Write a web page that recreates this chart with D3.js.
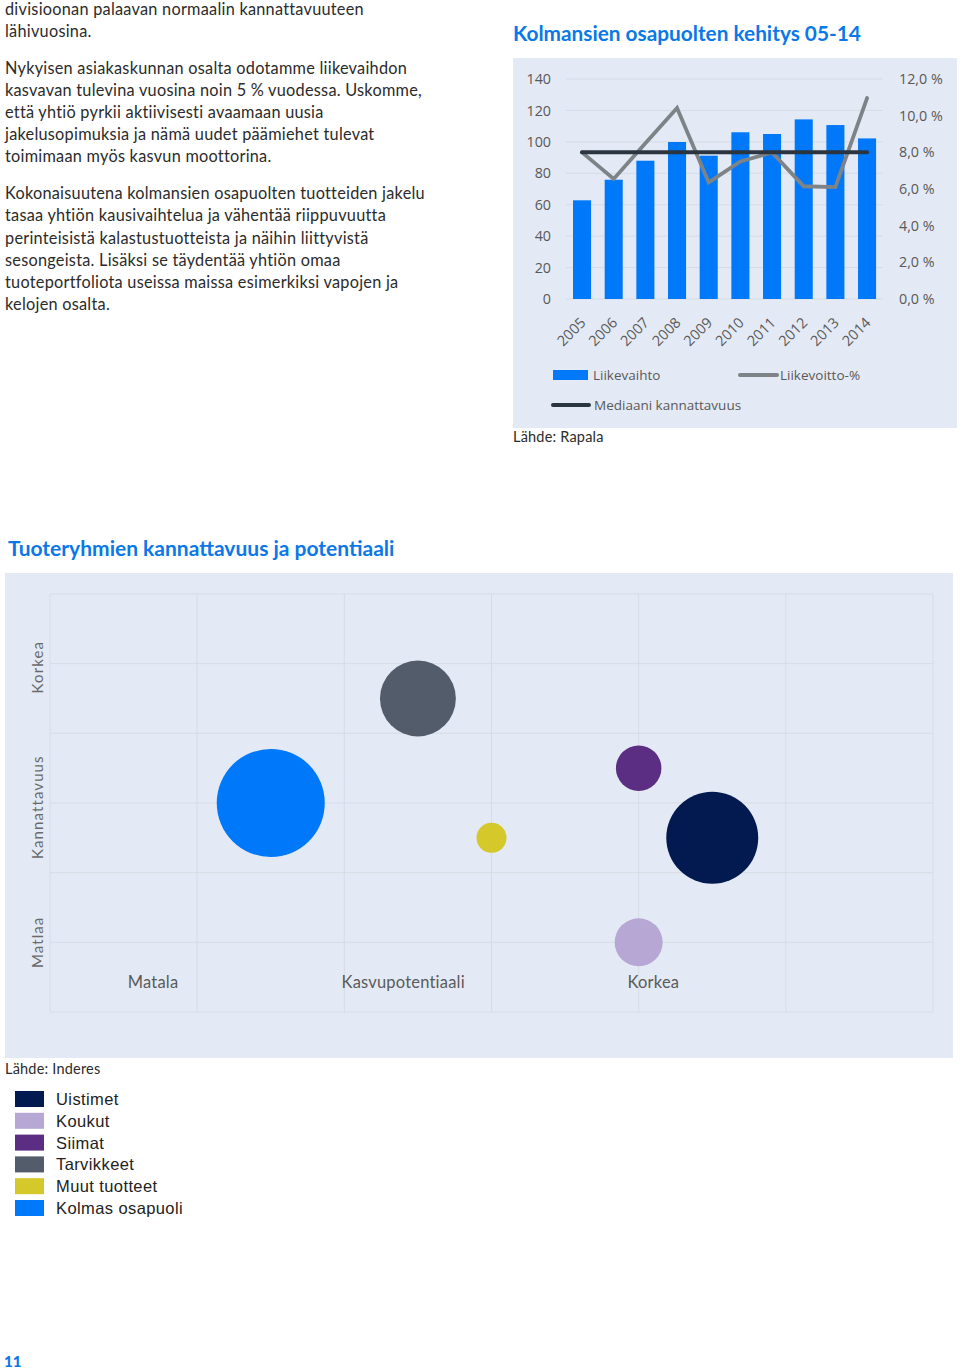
<!DOCTYPE html>
<html><head><meta charset="utf-8">
<script src="https://cdn.jsdelivr.net/npm/d3@7"></script>
<style>
html,body{margin:0;padding:0;background:#fff;}
svg{display:block;}
</style></head>
<body>
<svg id="page" width="960" height="1372"></svg>
<script>
// ---------- DATA ----------
const bodyLines = [
  "divisioonan palaavan normaalin kannattavuuteen",
  "lähivuosina.",
  "Nykyisen asiakaskunnan osalta odotamme liikevaihdon",
  "kasvavan tulevina vuosina noin 5 % vuodessa. Uskomme,",
  "että yhtiö pyrkii aktiivisesti avaamaan uusia",
  "jakelusopimuksia ja nämä uudet päämiehet tulevat",
  "toimimaan myös kasvun moottorina.",
  "Kokonaisuutena kolmansien osapuolten tuotteiden jakelu",
  "tasaa yhtiön kausivaihtelua ja vähentää riippuvuutta",
  "perinteisistä kalastustuotteista ja näihin liittyvistä",
  "sesongeista. Lisäksi se täydentää yhtiön omaa",
  "tuoteportfoliota useissa maissa esimerkiksi vapojen ja",
  "kelojen osalta."
];
const bodyParagraphStart = [0, 0, 1, 1, 1, 1, 1, 2, 2, 2, 2, 2, 2];
const years = ["2005","2006","2007","2008","2009","2010","2011","2012","2013","2014"];
const liikevaihto = [62.8, 75.9, 88.0, 99.9, 91.2, 106.1, 105.0, 114.3, 110.7, 102.2];
const liikevoitto = [0.080, 0.0655, 0.085, 0.1042, 0.0636, 0.075, 0.080, 0.0615, 0.061, 0.1096];
const mediaani = [0.080, 0.080, 0.080, 0.080, 0.080, 0.080, 0.080, 0.080, 0.080, 0.080];
const leftTicks = [0, 20, 40, 60, 80, 100, 120, 140];
const rightTicks = [0, 0.02, 0.04, 0.06, 0.08, 0.10, 0.12];
const chart1Legend = ["Liikevaihto", "Liikevoitto-%", "Mediaani kannattavuus"];

const groups = ["Uistimet", "Koukut", "Siimat", "Tarvikkeet", "Muut tuotteet", "Kolmas osapuoli"];
const groupColors = ["#021a50", "#b7a7d4", "#5b2d83", "#535c6b", "#d5c82a", "#0078fa"];
const potentiaali = [4.5, 4.0, 4.0, 2.5, 3.0, 1.5];   // x position (grid units)
const kannattavuus = [2.5, 1.0, 3.5, 4.5, 2.5, 3.0];  // y position (grid units)
const koko = [9.4, 2.56, 2.3, 6.4, 1.0, 12.96];        // bubble size
const xLabels = ["Matala", "Kasvupotentiaali", "Korkea"];
const xLabelPos = [0.7, 2.4, 4.1];
const yLabels = ["Matlaa", "Kannattavuus", "Korkea"];
const yLabelPos = [1.0, 2.94, 4.95];

// ---------- PAGE ----------
const svg = d3.select("#page");
const bodyFont = "Lato, 'Open Sans', sans-serif";
const chartFont = "'Open Sans', Lato, sans-serif";
const blue = "#0a78e8";

// body text
const tg = svg.append("g");
bodyLines.forEach((t, i) => {
  tg.append("text").attr("x", 5).attr("y", 15 + i * 22.1 + bodyParagraphStart[i] * 14.8)
    .attr("font-family", bodyFont).attr("font-size", 16.3).attr("letter-spacing", 0.25)
    .attr("fill", "#2b2b2b").text(t);
});

// ---------- CHART 1 ----------
svg.append("text").attr("x", 513).attr("y", 41)
  .attr("font-family", bodyFont).attr("font-weight", 700).attr("font-size", 20.8)
  .attr("fill", blue).text("Kolmansien osapuolten kehitys 05-14");

svg.append("rect").attr("x", 513).attr("y", 58).attr("width", 444).attr("height", 370)
  .attr("fill", "#e4eaf5");

const x1 = d3.scaleBand().domain(years).range([566.2, 882.9]).paddingInner(0.43).paddingOuter(0.215);
const yL = d3.scaleLinear().domain([0, 140]).range([299, 79]);
const yR = d3.scaleLinear().domain([0, 0.12]).range([299, 79]);

const c1 = svg.append("g");
// gridlines
c1.append("g").selectAll("line").data(leftTicks).join("line")
  .attr("x1", 566).attr("x2", 883)
  .attr("y1", d => yL(d)).attr("y2", d => yL(d))
  .attr("stroke", "#d6dce6").attr("stroke-width", 1);

// left axis
const axL = c1.append("g").attr("transform", "translate(551,0)")
  .call(d3.axisLeft(yL).tickValues(leftTicks).tickSize(0).tickPadding(0));
axL.select(".domain").remove();
axL.selectAll("text").attr("font-family", chartFont).attr("font-size", 14.3).attr("fill", "#595959");

// right axis
const fmtPct = d => d3.format(".1f")(d * 100).replace(".", ",") + " %";
const axR = c1.append("g").attr("transform", "translate(899,0)")
  .call(d3.axisRight(yR).tickValues(rightTicks).tickSize(0).tickPadding(0).tickFormat(fmtPct));
axR.select(".domain").remove();
axR.selectAll("text").attr("font-family", chartFont).attr("font-size", 14.3).attr("fill", "#595959");

// bars
c1.append("g").selectAll("rect").data(liikevaihto).join("rect")
  .attr("x", (d, i) => x1(years[i])).attr("width", x1.bandwidth())
  .attr("y", d => yL(d)).attr("height", d => yL(0) - yL(d))
  .attr("fill", "#0078fa");

// x axis labels
const axX = c1.append("g").attr("transform", "translate(0,305)")
  .call(d3.axisBottom(x1).tickSize(0).tickPadding(0));
axX.select(".domain").remove();
axX.selectAll("text")
  .attr("font-family", chartFont).attr("font-size", 14.5).attr("fill", "#595959")
  .attr("text-anchor", "end").attr("dy", "0.35em")
  .attr("transform", "translate(1,15) rotate(-45)");

const cx = (d, i) => x1(years[i]) + x1.bandwidth() / 2;
// profit line
c1.append("path").datum(liikevoitto)
  .attr("d", d3.line().x(cx).y(d => yR(d)))
  .attr("fill", "none").attr("stroke", "#7e8388").attr("stroke-width", 3.8)
  .attr("stroke-linejoin", "miter").attr("stroke-linecap", "round");
// median line
c1.append("path").datum(mediaani)
  .attr("d", d3.line().x(cx).y(d => yR(d)))
  .attr("fill", "none").attr("stroke", "#2a3540").attr("stroke-width", 4)
  .attr("stroke-linecap", "round");

// legend chart 1
const lg1 = c1.append("g").attr("font-family", chartFont).attr("font-size", 13.5).attr("fill", "#595959");
lg1.append("rect").attr("x", 553).attr("y", 370).attr("width", 35).attr("height", 10).attr("fill", "#0078fa");
lg1.append("text").attr("x", 593).attr("y", 380).text(chart1Legend[0]);
lg1.append("line").attr("x1", 740).attr("x2", 777).attr("y1", 375).attr("y2", 375)
  .attr("stroke", "#7e8388").attr("stroke-width", 4).attr("stroke-linecap", "round");
lg1.append("text").attr("x", 780).attr("y", 380).text(chart1Legend[1]);
lg1.append("line").attr("x1", 553).attr("x2", 589).attr("y1", 405).attr("y2", 405)
  .attr("stroke", "#2a3540").attr("stroke-width", 4).attr("stroke-linecap", "round");
lg1.append("text").attr("x", 594).attr("y", 410).text(chart1Legend[2]);

svg.append("text").attr("x", 513).attr("y", 442)
  .attr("font-family", bodyFont).attr("font-size", 14.5).attr("letter-spacing", 0.2).attr("fill", "#2b2b2b").text("Lähde: Rapala");

// ---------- CHART 2 (bubbles) ----------
svg.append("text").attr("x", 8).attr("y", 556)
  .attr("font-family", bodyFont).attr("font-weight", 700).attr("font-size", 21)
  .attr("fill", blue).text("Tuoteryhmien kannattavuus ja potentiaali");

svg.append("rect").attr("x", 5).attr("y", 573).attr("width", 948).attr("height", 485)
  .attr("fill", "#e4eaf5");

const xB = d3.scaleLinear().domain([0, 6]).range([50, 933]);
const yB = d3.scaleLinear().domain([0, 6]).range([1012, 594]);
const rB = d3.scaleSqrt().domain([0, 1]).range([0, 15]);

const c2 = svg.append("g");
c2.append("g").selectAll("line").data(d3.range(0, 7)).join("line")
  .attr("x1", d => xB(d)).attr("x2", d => xB(d)).attr("y1", yB(0)).attr("y2", yB(6))
  .attr("stroke", "#d7dce4").attr("stroke-width", 1);
c2.append("g").selectAll("line").data(d3.range(0, 7)).join("line")
  .attr("y1", d => yB(d)).attr("y2", d => yB(d)).attr("x1", xB(0)).attr("x2", xB(6))
  .attr("stroke", "#d7dce4").attr("stroke-width", 1);

c2.append("g").selectAll("circle").data(groups).join("circle")
  .attr("cx", (d, i) => xB(potentiaali[i]))
  .attr("cy", (d, i) => yB(kannattavuus[i]))
  .attr("r", (d, i) => rB(koko[i]))
  .attr("fill", (d, i) => groupColors[i]);

c2.append("g").selectAll("text").data(xLabels).join("text")
  .attr("x", (d, i) => xB(xLabelPos[i])).attr("y", 988)
  .attr("text-anchor", "middle")
  .attr("font-family", bodyFont).attr("font-size", 16.5).attr("letter-spacing", 0.2).attr("fill", "#5a5a5a")
  .text(d => d);

c2.append("g").selectAll("text").data(yLabels).join("text")
  .attr("transform", (d, i) => `translate(43,${yB(yLabelPos[i])}) rotate(-90)`)
  .attr("text-anchor", "middle")
  .attr("font-family", bodyFont).attr("font-size", 15).attr("letter-spacing", 1.1).attr("fill", "#6a6a6a")
  .text(d => d);

svg.append("text").attr("x", 5).attr("y", 1074)
  .attr("font-family", bodyFont).attr("font-size", 14.5).attr("letter-spacing", 0.2).attr("fill", "#2b2b2b").text("Lähde: Inderes");

// legend chart 2
const lg2 = svg.append("g");
groups.forEach((g, i) => {
  const y = 1099 + i * 21.8;
  lg2.append("rect").attr("x", 15).attr("y", y - 8).attr("width", 29).attr("height", 16).attr("fill", groupColors[i]);
  lg2.append("text").attr("x", 56).attr("y", y + 6)
    .attr("font-family", "'Liberation Sans', Arial, sans-serif").attr("font-size", 16.5).attr("letter-spacing", 0.4).attr("fill", "#222")
    .text(g);
});

// page number
svg.append("text").attr("x", 4).attr("y", 1367)
  .attr("font-family", bodyFont).attr("font-weight", 900).attr("font-size", 15)
  .attr("fill", blue).text("11");
</script>
</body></html>
